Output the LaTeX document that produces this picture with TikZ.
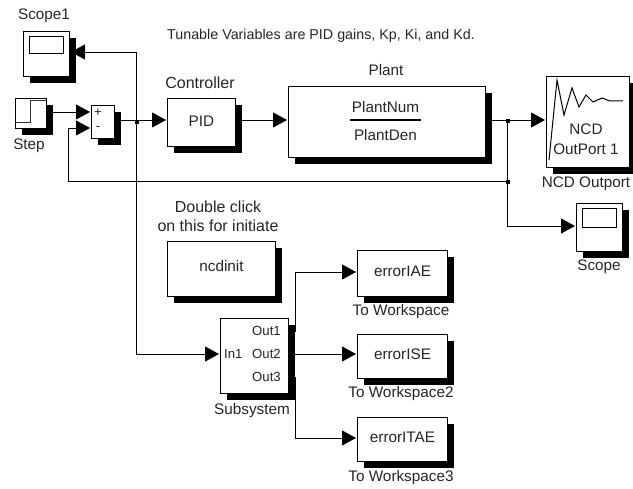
\documentclass[tikz,border=0pt]{standalone}
\usepackage{fontspec}
\setmainfont{Liberation Sans}
\usetikzlibrary{arrows.meta,calc}
\tikzset{
  block/.style={draw=black,line width=1pt,fill=white,minimum width=#1,inner sep=0pt,anchor=north west,text depth=0pt},
  shadowed/.style={preaction={fill=black,transform canvas={shift={(6.5pt,-6.5pt)}}}},
  wire/.style={draw=black,line width=0.9pt},
  flow/.style={wire,-{Triangle[length=14pt,width=15pt]},shorten >=1pt},
  lbl/.style={font=\fontsize{15.3pt}{17pt}\selectfont,inner sep=0pt,text=black!85},
  wide/.style={font=\fontsize{16pt}{18pt}\selectfont},
  port/.style={font=\fontsize{13.2pt}{15pt}\selectfont,inner sep=0pt,text=black!85},
  jdot/.style={fill=black,inner sep=0pt,minimum size=4pt}
}
\newcommand{\bx}[6]{\node[block=#4pt,minimum height=#5pt,shadowed,lbl,align=center] (#1) at (#2,#3) {#6};}
\begin{document}
\begin{tikzpicture}[x=1pt,y=-1pt]
\useasboundingbox (0,0) rectangle (633,489);
\bx{scopeone}{23}{31}{46}{45}{}
\bx{step}{15}{98}{31}{30}{}
\bx{sum}{91}{105}{23}{33}{}
\bx{pid}{167}{98}{68}{48}{\raisebox{3pt}{PID}}
\bx{plant}{288}{86}{197}{71}{}
\bx{ncd}{546}{76}{83}{91}{}
\bx{scope}{576}{203}{46}{48}{}
\bx{init}{167}{241}{108}{55}{\raisebox{6pt}{ncdinit}}
\bx{subsys}{220}{318}{68}{75}{}
\bx{iae}{357}{250}{90}{46}{\raisebox{4pt}{errorIAE}}
\bx{ise}{357}{334}{90}{44}{\raisebox{4pt}{errorISE}}
\bx{itae}{357}{417}{90}{44}{\raisebox{4pt}{errorITAE}}
% icons
\draw[line width=1pt] (29,37) rectangle (63,54);
\draw[line width=1pt] (582,209) rectangle (616,228);
\draw[line width=1pt,black!80] (15,123) -- (30,123) -- (30,101) -- (46,101);
\draw[line width=1pt] (549,160) -- (557,80) -- (564,115) -- (572,88) -- (579,107) -- (586,95) -- (593,102) -- (602,98) -- (610,101) -- (623,101);
\draw[line width=1.3pt] (350,120) -- (421,120);
% labels inside
\node[lbl] (num) at (385.5,107) {PlantNum};
\node[lbl] (den) at (385.5,135) {PlantDen};
\node[lbl] (ncdone) at (586,129) {NCD};
\node[lbl] (ncdtwo) at (586,149) {OutPort 1};
\node[port] (plus) at (98,113) {+};
\node[port] (minus) at (98,128) {-};
\node[port,anchor=east] (ofirst) at (281,331) {Out1};
\node[port,anchor=east] (osecond) at (281,354) {Out2};
\node[port,anchor=east] (othird) at (281,377) {Out3};
\node[port,anchor=west] (inone) at (224,354) {In1};
% outer labels
\node[lbl] (tscopeone) at (44,16) {Scope1};
\node[lbl] (tstep) at (29,146) {Step};
\node[lbl,wide] (tctrl) at (200,83) {Controller};
\node[lbl] (tplant) at (386,70) {Plant};
\node[lbl] (tncd) at (586,184) {NCD Outport};
\node[lbl] (tscope) at (599,267) {Scope};
\node[lbl,wide] (tdc) at (218,207) {Double click};
\node[lbl,wide] (tot) at (218,226) {on this for initiate};
\node[lbl] (tsub) at (252,411) {Subsystem};
\node[lbl] (twa) at (401,312) {To Workspace};
\node[lbl] (twb) at (401,394) {To Workspace2};
\node[lbl] (twc) at (401,478) {To Workspace3};
\node[lbl,font=\fontsize{14.3pt}{16pt}\selectfont] (ttun) at (321,36) {Tunable Variables are  PID gains, Kp, Ki, and Kd.};
% connectors
\coordinate (fbj) at (507,181);
\coordinate (oj) at (507,120);
\coordinate (sj) at (136,120);
\draw[flow] (step.east|-0,112) -- (sum.west|-0,112);
\draw[flow] (sum.east|-0,120) -- (pid.west|-0,120);
\draw[flow] (pid.east|-0,120) -- (plant.west|-0,120);
\draw[flow] (plant.east|-0,120) -- (ncd.west|-0,120);
\draw[flow] (oj) |- (scope.west|-0,226);
\draw[flow] (fbj) -- (68,181) -- (68,128) -- (sum.west|-0,128);
\draw[flow] (sj) |- (scopeone.east|-0,52);
\draw[flow] (sj) |- (subsys.west|-0,354);
\draw[flow] (ofirst.east-|subsys.east) -- (295,331) |- (iae.west|-0,272);
\draw[flow] (osecond.east-|subsys.east) -- (ise.west|-0,354);
\draw[flow] (othird.east-|subsys.east) -- (295,377) |- (itae.west|-0,438);
\node[jdot] (d1) at (137,122) {};
\node[jdot] (d2) at (508,121) {};
\node[jdot] (d3) at (508,182) {};
\end{tikzpicture}
\end{document}
